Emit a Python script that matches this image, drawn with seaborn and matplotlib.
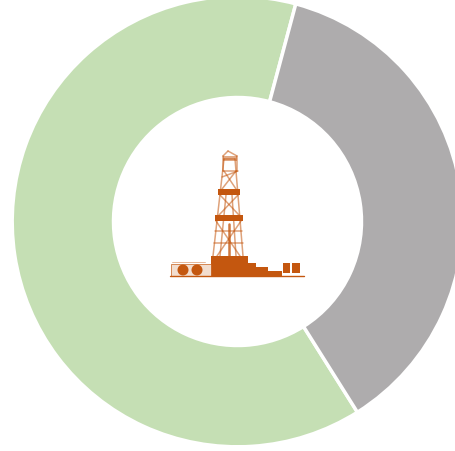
import matplotlib
matplotlib.use('Agg')
import matplotlib.pyplot as plt
import matplotlib.patches as patches
import seaborn as sns

# Fatias do anel
categorias = ['Verde', 'Cinza']
valores = [63.1, 36.9]
cores = ['#c5dfb4', '#aeacad']

LARGURA, ALTURA = 455, 452
CX, CY, RAIO, RAIO_INT = 237.5, 222.5, 225.3, 124
LARANJA = '#c4570f'

sns.set_theme(style='white')
fig = plt.figure(figsize=(LARGURA / 100, ALTURA / 100), dpi=100)

# Eixo do anel, maior que a figura para cortar a direita
ax = fig.add_axes([(CX - RAIO) / LARGURA, (ALTURA - CY - RAIO) / ALTURA,
                   2 * RAIO / LARGURA, 2 * RAIO / ALTURA])
ax.pie(valores, colors=cores, startangle=75, radius=1,
       wedgeprops=dict(width=1 - RAIO_INT / RAIO, edgecolor='white', linewidth=2.5))
ax.set_xlim(-1, 1)
ax.set_ylim(-1, 1)

# Icone da sonda, em coordenadas de pixel
ic = fig.add_axes([0, 0, 1, 1])
ic.set_xlim(0, LARGURA)
ic.set_ylim(ALTURA, 0)
ic.axis('off')
ic.patch.set_alpha(0)

# blocos cheios: x, y, largura, altura
blocos = [(211, 257, 37, 20), (248, 264, 8, 13), (256, 268, 12, 9), (268, 272, 14, 5),
          (218, 190, 22, 6), (215, 216, 28, 6), (283, 264, 7, 10), (292, 264, 8, 10)]
for x, y, w, h in blocos:
    ic.add_patch(patches.Rectangle((x, y), w, h, fc=LARANJA, ec='none'))

# estrutura da torre
linhas = [((213, 257), (224, 160)), ((243, 257), (235, 160)),
          ((220, 257), (226, 196)), ((236, 257), (232, 196)),
          ((224, 160), (235, 160)), ((223, 172), (237, 172)),
          ((222, 178), (238, 172)), ((224, 172), (236, 190)), ((236, 172), (222, 190)),
          ((220, 196), (239, 216)), ((238, 196), (219, 216)),
          ((215, 232), (242, 232)), ((214, 244), (243, 244)),
          ((216, 222), (240, 257)), ((241, 222), (217, 257)),
          ((223, 157), (223, 172)), ((237, 157), (237, 172)),
          ((223, 157), (228, 152)), ((237, 157), (228, 152))]
for (x0, y0), (x1, y1) in linhas:
    ic.plot([x0, x1], [y0, y1], color=LARANJA, lw=1.1, alpha=0.55, solid_capstyle='round')
ic.plot([228.5, 228.5], [225, 257], color=LARANJA, lw=1.8, alpha=0.8)
ic.add_patch(patches.Rectangle((223, 157), 14, 5, fc=LARANJA, ec='none', alpha=0.5))

# base e equipamento a esquerda
ic.plot([170, 304], [277, 277], color=LARANJA, lw=1.0)
ic.add_patch(patches.Rectangle((171, 265), 40, 12, fc='#efd5c2', ec=LARANJA, lw=0.6, alpha=0.8))
ic.plot([172, 205], [263, 263], color=LARANJA, lw=0.6, alpha=0.5)
for x in (183, 197):
    ic.add_patch(patches.Circle((x, 271), 5.5, fc=LARANJA, ec='none'))

fig.savefig('out.png', dpi=100)
